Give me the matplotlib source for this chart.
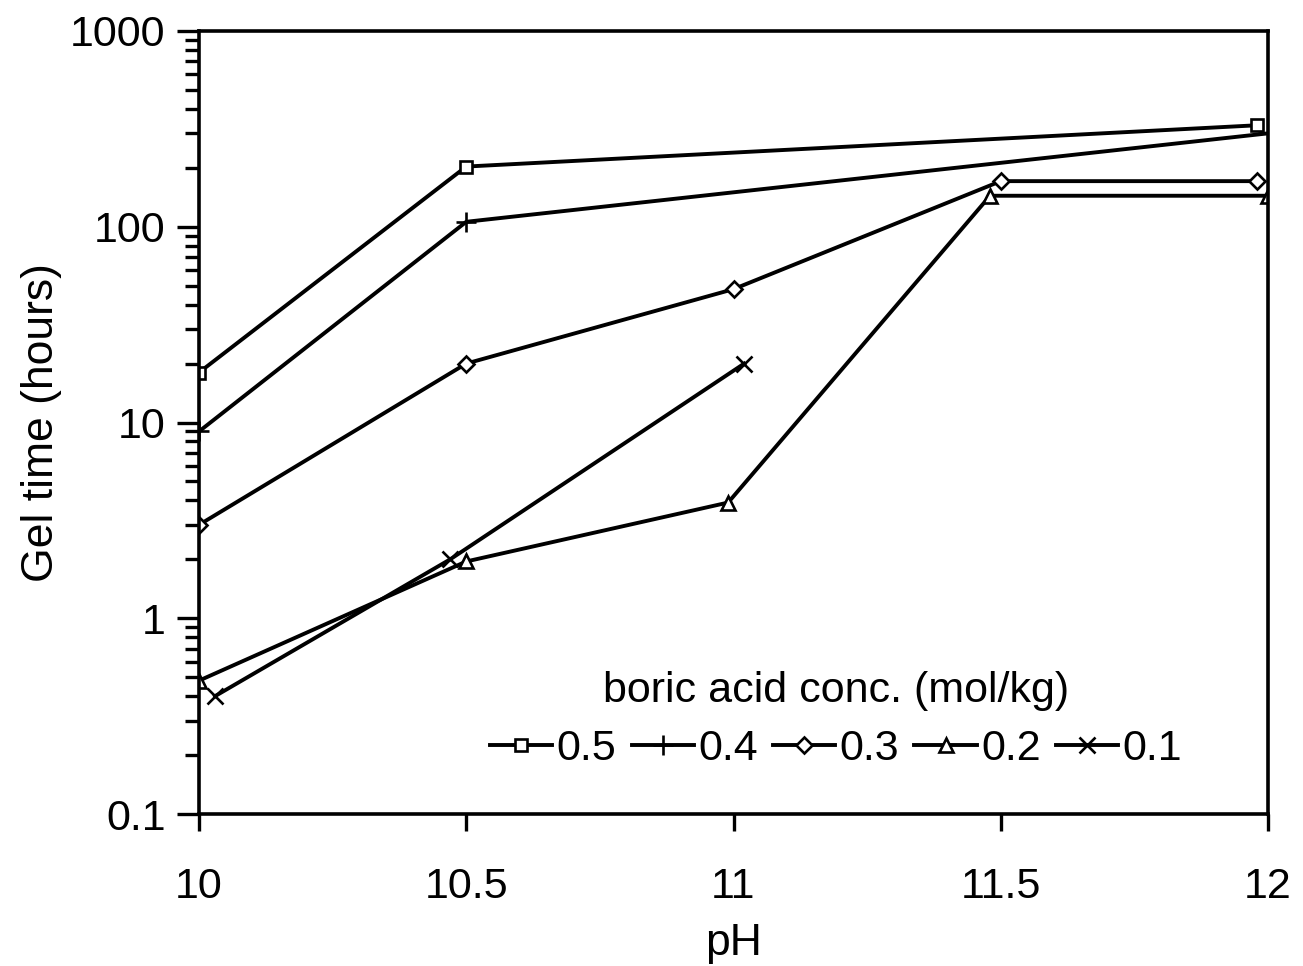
import matplotlib
matplotlib.use("Agg")
import matplotlib.pyplot as plt
from matplotlib.ticker import LogLocator, FixedLocator, NullFormatter

plt.rcParams['font.family'] = ['Liberation Sans', 'DejaVu Sans']

# Data (pH, gel time in hours)
ph_05 = [10.0, 10.5, 11.98]
gel_05 = [18, 203, 330]

ph_04 = [10.0, 10.5, 12.0]
gel_04 = [9, 106, 300]

ph_03 = [10.0, 10.5, 11.0, 11.5, 11.98]
gel_03 = [3.0, 20, 48, 171, 171]

ph_02 = [10.0, 10.5, 10.99, 11.48, 12.0]
gel_02 = [0.48, 1.95, 3.9, 144, 144]

ph_01 = [10.03, 10.47, 11.02]
gel_01 = [0.40, 2.0, 20]

series_labels = ['0.5', '0.4', '0.3', '0.2', '0.1']
legend_title = 'boric acid conc. (mol/kg)'
x_ticks = [10, 10.5, 11, 11.5, 12]
x_tick_labels = ['10', '10.5', '11', '11.5', '12']
y_ticks = [0.1, 1, 10, 100, 1000]
y_tick_labels = ['0.1', '1', '10', '100', '1000']

W, H = 1303, 966
fig = plt.figure(figsize=(W / 100, H / 100), dpi=100)
left, right, top, bottom = 199, 1268, 31, 814
ax = fig.add_axes([left / W, 1 - bottom / H, (right - left) / W, (bottom - top) / H])

lw = 2.8
common = dict(color='black', lw=lw, markerfacecolor='white', markeredgecolor='black', markeredgewidth=1.9)
ax.plot(ph_05, gel_05, marker='s', ms=9, label=series_labels[0], **common)
ax.plot(ph_04, gel_04, marker='+', ms=15, label=series_labels[1], **common)
ax.plot(ph_03, gel_03, marker='D', ms=8, label=series_labels[2], **common)
ax.plot(ph_02, gel_02, marker='^', ms=10, label=series_labels[3], **common)
ax.plot(ph_01, gel_01, marker='x', ms=12, label=series_labels[4], **common)

ax.set_yscale('log')
ax.set_xlim(10, 12)
ax.set_ylim(0.1, 1000)

ax.xaxis.set_major_locator(FixedLocator(x_ticks))
ax.set_xticklabels(x_tick_labels)
ax.yaxis.set_major_locator(FixedLocator(y_ticks))
ax.set_yticklabels(y_tick_labels)
ax.yaxis.set_minor_locator(LogLocator(base=10, subs=range(2, 10)))
ax.yaxis.set_minor_formatter(NullFormatter())

ax.tick_params(axis='both', which='major', labelsize=31, direction='out', width=2.4, color='black')
ax.tick_params(axis='y', which='major', length=16, pad=8)
ax.tick_params(axis='y', which='minor', length=10, width=2.4, direction='out')
ax.tick_params(axis='x', which='major', length=12, pad=26)
for s in ax.spines.values():
    s.set_linewidth(2.6)
    s.set_color('black')

ax.set_xlabel('pH', fontsize=32, labelpad=12)
ax.set_ylabel('Gel time (hours)', fontsize=32, labelpad=6)

leg = ax.legend(title=legend_title, loc='center', bbox_to_anchor=(0.596, 0.12),
                ncol=5, frameon=False, fontsize=31, title_fontsize=31,
                handlelength=1.45, handletextpad=0.1, columnspacing=0.35,
                borderpad=0.1, labelspacing=0.4)

fig.savefig('out.png', dpi=100, facecolor='white')
